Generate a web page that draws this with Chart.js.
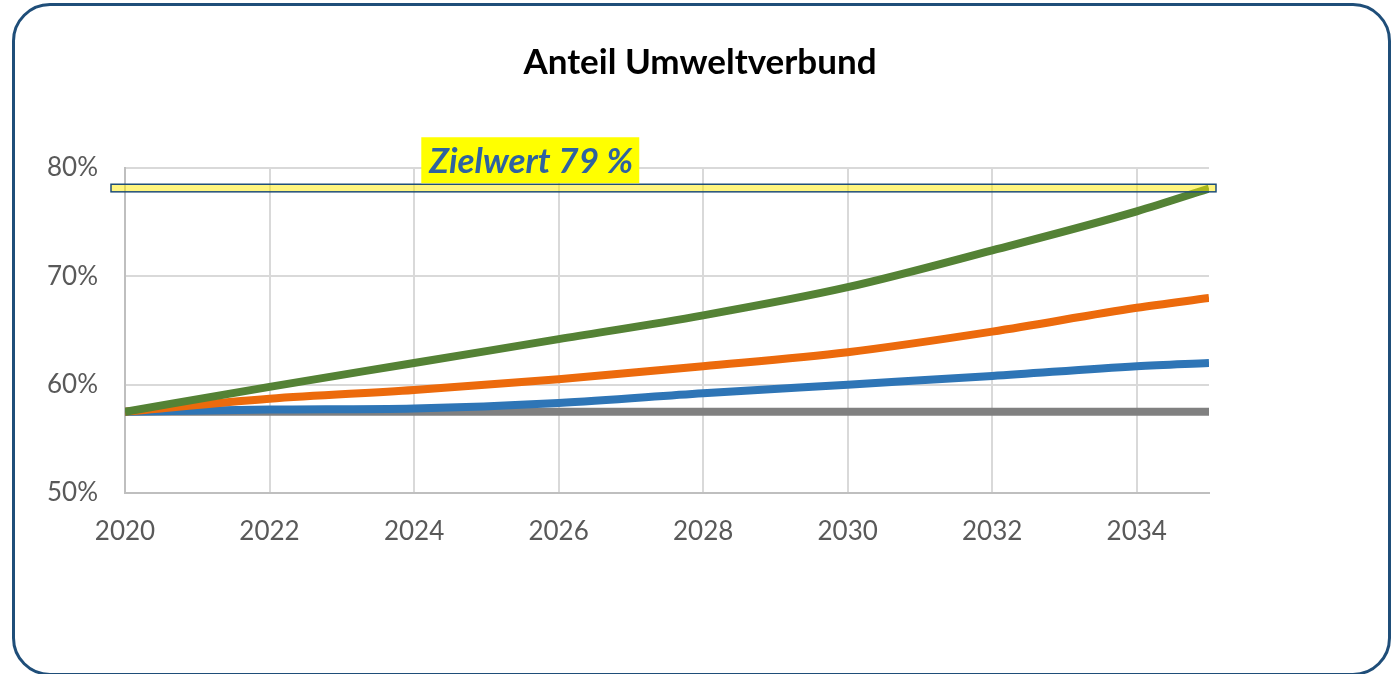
<!DOCTYPE html>
<html>
<head>
<meta charset="utf-8">
<script src="https://cdn.jsdelivr.net/npm/chart.js@4"></script>
<style>
  html, body { margin: 0; padding: 0; background: #fff; overflow: hidden; }
  #wrap { position: relative; width: 1400px; height: 674px; }
  #frame {
    position: absolute; left: 12px; top: 3px; width: 1379px; height: 673px;
    box-sizing: border-box; border: 3px solid #1f4e79; border-radius: 38px;
    pointer-events: none;
  }
</style>
</head>
<body>
<div id="wrap">
  <canvas id="chart" width="1400" height="674"></canvas>
  <div id="frame"></div>
</div>
<script>
const years = [2020, 2022, 2024, 2026, 2028, 2030, 2032, 2034, 2035];
const green = [57.5, 59.8, 62.0, 64.2, 66.4, 69.0, 72.4, 76.0, 78.1];
const orange = [57.5, 58.7, 59.5, 60.5, 61.7, 63.0, 64.9, 67.1, 68.0];
const blue = [57.5, 57.7, 57.8, 58.3, 59.2, 60.0, 60.8, 61.7, 62.0];
const grey = [57.5, 57.5, 57.5, 57.5, 57.5, 57.5, 57.5, 57.5, 57.5];
const yTicks = [50, 60, 70, 80];
const targetBand = [77.8, 78.5];
const targetText = 'Zielwert 79 %';
const targetLabelYear = 2024.1;
const titleText = 'Anteil Umweltverbund';

const FONT = 'Lato, Carlito, "Open Sans", sans-serif';

function points(vals) {
    return years.map((y, i) => ({ x: y, y: vals[i] }));
}

function line(label, color, vals) {
    return {
        label: label,
        data: points(vals),
        borderColor: color,
        backgroundColor: color,
        borderWidth: 8,
        pointRadius: 0,
        cubicInterpolationMode: 'monotone',
        borderCapStyle: 'butt'
    };
}

// title centred on the whole canvas, yellow target band + label box
const targetPlugin = {
    id: 'target',
    afterDatasetsDraw(chart) {
        const { ctx, chartArea, scales } = chart;
        const yTop = scales.y.getPixelForValue(targetBand[1]);
        const yBot = scales.y.getPixelForValue(targetBand[0]);
        const x0 = chartArea.left - 14;
        const x1 = chartArea.right + 7;
        ctx.save();
        ctx.fillStyle = 'rgba(255, 236, 0, 0.5)';
        ctx.fillRect(x0, yTop, x1 - x0, yBot - yTop);
        ctx.strokeStyle = '#1f4e79';
        ctx.lineWidth = 1.5;
        ctx.strokeRect(x0, yTop, x1 - x0, yBot - yTop);
        ctx.restore();
    },
    afterDraw(chart) {
        const { ctx, scales } = chart;
        ctx.save();
        ctx.font = 'bold 35px ' + FONT;
        ctx.fillStyle = '#000';
        ctx.textAlign = 'center';
        ctx.textBaseline = 'middle';
        ctx.fillText(titleText, chart.width / 2, 63);

        const yTop = scales.y.getPixelForValue(targetBand[1]);
        const left = scales.x.getPixelForValue(targetLabelYear);
        ctx.font = 'italic bold 35px ' + FONT;
        ctx.textAlign = 'left';
        const w = ctx.measureText(targetText).width + 14;
        const h = 46;
        const top = yTop - 1 - h;
        ctx.fillStyle = '#ffff00';
        ctx.fillRect(left, top, w, h);
        ctx.fillStyle = '#2e62a0';
        ctx.fillText(targetText, left + 8, top + h / 2 + 1);
        ctx.restore();
    }
};

const chart = new Chart(document.getElementById('chart'), {
    type: 'line',
    data: {
        datasets: [
            line('Szenario 3', '#548235', green),
            line('Szenario 2', '#ec6a0c', orange),
            line('Szenario 1', '#2e75b6', blue),
            line('Bestand', '#808080', grey)
        ]
    },
    plugins: [targetPlugin],
    options: {
        responsive: false,
        animation: false,
        layout: { padding: { left: 20, right: 191, top: 168, bottom: 121 } },
        plugins: {
            legend: { display: false },
            tooltip: { enabled: false },
            title: { display: false }
        },
        scales: {
            x: {
                type: 'linear',
                min: 2020,
                max: 2035,
                afterFit(s) { s.height = 60; },
                ticks: {
                    stepSize: 2,
                    includeBounds: false,
                    padding: 23,
                    color: '#595959',
                    font: { family: FONT, size: 26 },
                    callback: v => String(v)
                },
                grid: { color: '#d9d9d9', lineWidth: 2, drawTicks: false },
                border: { color: '#bfbfbf', width: 2 }
            },
            y: {
                min: 50,
                max: 80,
                afterFit(s) { s.width = 105; },
                afterBuildTicks(s) { s.ticks = yTicks.map(v => ({ value: v })); },
                ticks: {
                    padding: 27,
                    color: '#595959',
                    font: { family: FONT, size: 26 },
                    callback: v => v + '%'
                },
                grid: { color: '#d9d9d9', lineWidth: 2, drawTicks: false },
                border: { color: '#bfbfbf', width: 2 }
            }
        }
    }
});
</script>
</body>
</html>
